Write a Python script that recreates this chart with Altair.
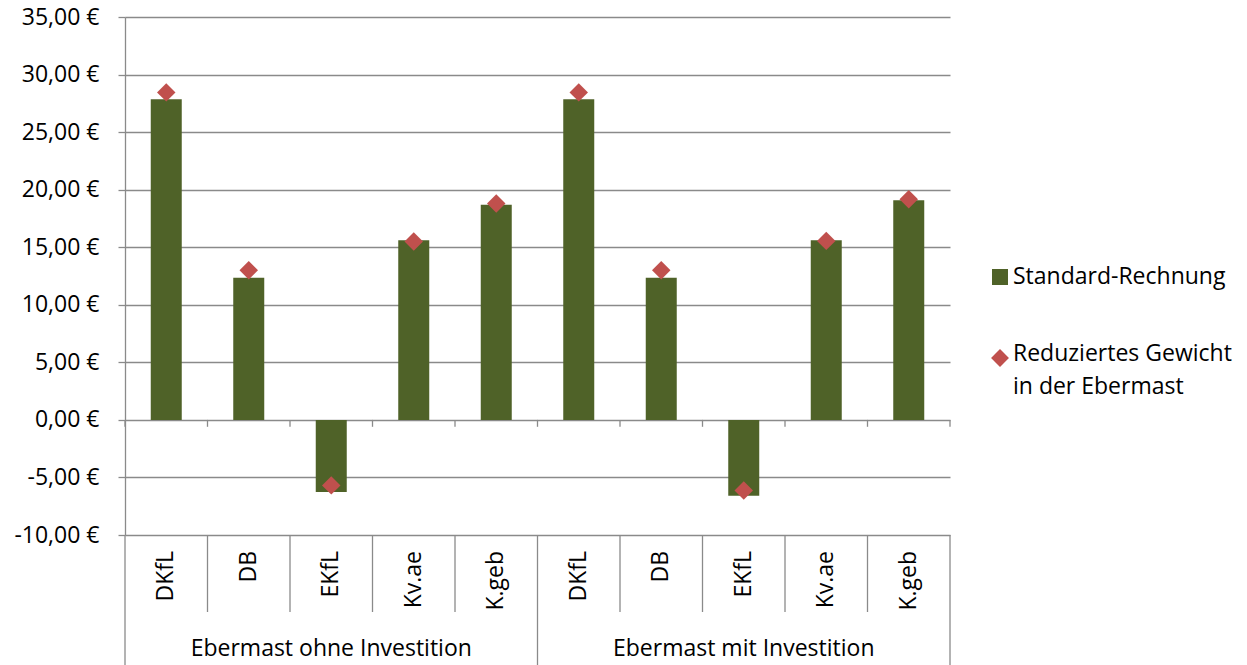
import altair as alt
import pandas as pd

categories = ["DKfL", "DB", "EKfL", "Kv.ae", "K.geb"]
groups = ["Ebermast ohne Investition", "Ebermast mit Investition"]
standard = [27.85, 12.34, -6.27, 15.6, 18.7, 27.85, 12.34, -6.6, 15.6, 19.07]
reduziert = [28.45, 13.0, -5.69, 15.5, 18.8, 28.45, 13.0, -6.14, 15.55, 19.16]
series_names = ["Standard-Rechnung", "Reduziertes Gewicht\nin der Ebermast"]
y_ticks = [-10, -5, 0, 5, 10, 15, 20, 25, 30, 35]

FONT = "Open Sans"
FS = 23
GREEN = "#4F6228"
RED = "#C0504D"
GRID = "#8a8a8a"
W, H = 825, 518

n = len(categories) * len(groups)
rows = []
for i in range(n):
    rows.append({
        "pos": i + 0.5,
        "cat": categories[i % len(categories)],
        "group": groups[i // len(categories)],
        "standard": standard[i],
        "reduziert": reduziert[i],
    })
df = pd.DataFrame(rows)

xs = alt.Scale(domain=[0, n], nice=False, zero=False, padding=0)
ys = alt.Scale(domain=[-10, 35], nice=False, padding=0)

X = lambda f: alt.X(f, type="quantitative", scale=xs, axis=None)

label_expr = ("(datum.value < 0 ? '-' : '') + replace(format(abs(datum.value), '.2f'), '.', ',') + ' €'")

base = alt.Chart(df)

bars = base.mark_bar(color=GREEN, size=31).encode(
    x=X("pos"),
    y=alt.Y("standard:Q", scale=ys,
            axis=alt.Axis(values=y_ticks, labelExpr=label_expr, title=None,
                          grid=True, gridColor=GRID, gridWidth=1.3,
                          domain=True, domainColor=GRID, domainWidth=1.3,
                          ticks=True, tickColor=GRID, tickSize=7, tickWidth=1.3,
                          labelPadding=19, labelFont=FONT, labelFontSize=FS,
                          labelColor="#000000")),
)

points = base.mark_point(shape="diamond", filled=True, color=RED, size=340, opacity=1).encode(
    x=X("pos"),
    y=alt.Y("reduziert:Q", scale=ys),
)

bounds = pd.DataFrame({"b": list(range(n + 1))})
bounds["major"] = bounds["b"] % len(categories) == 0
bounds["tick_top"] = 0.0
bounds["tick_bottom"] = -0.6

zero_ticks = alt.Chart(bounds).mark_rule(color=GRID, strokeWidth=1.3).encode(
    x=X("b"), y=alt.Y("tick_top:Q", scale=ys), y2="tick_bottom:Q")

minor_sep = alt.Chart(bounds[~bounds["major"]]).mark_rule(color=GRID, strokeWidth=1.3).encode(
    x=X("b"), y=alt.value(H), y2=alt.value(H + 77))

major_sep = alt.Chart(bounds[bounds["major"]]).mark_rule(color=GRID, strokeWidth=1.3).encode(
    x=X("b"), y=alt.value(H), y2=alt.value(H + 140))

cat_text = base.mark_text(angle=270, align="right", baseline="middle",
                          font=FONT, fontSize=FS, color="#000000").encode(
    x=X("pos"), y=alt.value(H + 16), text="cat:N")

gdf = pd.DataFrame({"group": groups,
                    "center": [len(categories) * (k + 0.5) for k in range(len(groups))]})
group_text = alt.Chart(gdf).mark_text(baseline="middle", font=FONT, fontSize=FS,
                                      color="#000000").encode(
    x=X("center"), y=alt.value(H + 114), text="group:N")

leg = pd.DataFrame({"name": series_names, "row": [0, 1]})
leg_sq = alt.Chart(leg[leg["row"] == 0]).mark_square(color=GREEN, size=256, opacity=1).encode(
    x=alt.value(W + 50), y=alt.value(260))
leg_di = alt.Chart(leg[leg["row"] == 1]).mark_point(shape="diamond", filled=True, color=RED,
                                                     size=320, opacity=1).encode(
    x=alt.value(W + 50), y=alt.value(341))
leg_t1 = alt.Chart(leg[leg["row"] == 0]).mark_text(align="left", baseline="middle", font=FONT,
                                                   fontSize=FS, color="#000000").encode(
    x=alt.value(W + 63), y=alt.value(260), text="name:N")
leg_t2 = alt.Chart(leg[leg["row"] == 1]).mark_text(align="left", baseline="top", font=FONT,
                                                   fontSize=FS, color="#000000", lineBreak="\n",
                                                   lineHeight=33, dy=-14).encode(
    x=alt.value(W + 63), y=alt.value(340), text="name:N")

chart = alt.layer(
    bars, zero_ticks, points, minor_sep, major_sep, cat_text, group_text,
    leg_sq, leg_di, leg_t1, leg_t2
).properties(
    width=W, height=H,
    autosize=alt.AutoSizeParams(type="none"),
    padding={"left": 117, "top": 9, "right": 289, "bottom": 130},
    background="#ffffff",
).configure(
    view=alt.ViewConfig(stroke="transparent", strokeWidth=0),
)

chart.save("out.html", embed_options={"renderer": "svg", "actions": False})
